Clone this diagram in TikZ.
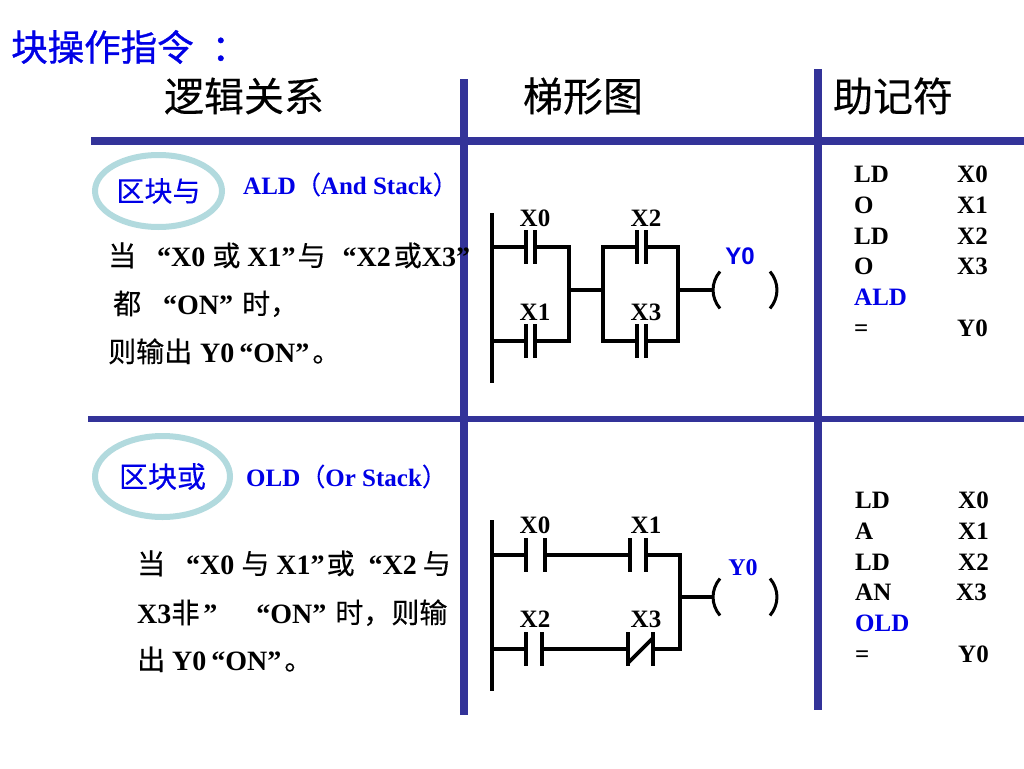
\documentclass[tikz,border=0pt]{standalone}
\usepackage{fontspec}
\setmainfont{Liberation Serif}
\setsansfont{Liberation Sans}
\newfontfamily\cjkfont{Noto Sans CJK SC}
\newfontfamily\cjkheavy[FakeBold=0.3]{Noto Sans CJK SC}
\newfontfamily\cjktitle[FakeBold=0.9]{Noto Sans CJK SC}
\newcommand{\zh}[1]{{\cjkheavy\mdseries #1}}
\newcommand{\gap}[1]{\hspace*{#1pt}}
\usetikzlibrary{shapes.geometric}
\definecolor{gridblue}{RGB}{51,51,153}
\definecolor{textblue}{RGB}{0,0,230}
\definecolor{ringteal}{RGB}{178,218,222}
\tikzset{
  gridline/.style={gridblue, line width=8pt},
  wire/.style={line width=3.6pt},
  contact/.style={inner sep=0pt, outer sep=0pt, minimum height=34pt},
  coil/.style={inner sep=0pt, outer sep=0pt, minimum width=50pt, minimum height=37pt},
  ring/.style={ellipse, draw=ringteal, line width=6pt, inner sep=0pt, text=textblue},
  heading/.style={inner sep=0pt, font=\fontsize{40}{40}\selectfont\cjkheavy},
  body/.style={anchor=base west, inner sep=0pt, font=\fontsize{28}{28}\selectfont\bfseries},
  stacktag/.style={anchor=base west, inner sep=0pt, text=textblue, font=\fontsize{25}{25}\selectfont\bfseries},
  tag/.style={inner sep=0pt, font=\fontsize{25}{25}\selectfont\bfseries},
  mnem/.style={anchor=base west, inner sep=0pt, font=\fontsize{25}{25}\selectfont\bfseries},
}
\begin{document}
\begin{tikzpicture}[x=1pt, y=-1pt]
\useasboundingbox (0,0) rectangle (1024,768);
% table lines
\coordinate (h1a) at (91,141);
\coordinate (h1b) at (1024,141);
\coordinate (h2a) at (88,419);
\coordinate (h2b) at (1024,419);
\coordinate (v1a) at (464,79);
\coordinate (v1b) at (464,715);
\coordinate (v2a) at (818,69);
\coordinate (v2b) at (818,710);
\draw[gridline] (h1a) -- (h1b);
\draw[gridline, line width=6pt] (h2a) -- (h2b);
\draw[gridline] (v1a) -- (v1b);
\draw[gridline] (v2a) -- (v2b);
% headings
\node[anchor=west, inner sep=0pt, text=textblue, font=\fontsize{36.5}{37}\selectfont\cjktitle] (title) at (11,47) {块操作指令\gap{18}：};
\node[heading] (headlogic) at (244,96) {逻辑关系};
\node[heading] (headladder) at (583,96) {梯形图};
\node[heading] (headmnem) at (893,96) {助记符};
% left column
\node[ring, minimum width=127pt, minimum height=72pt, font=\fontsize{28}{28}\selectfont\cjkheavy] (ringand) at (158.5,191) {区块与};
\node[stacktag] (tagand) at (243,194) {ALD\zh{（}And Stack\zh{）}};
\node[body] (anda) at (108,266) {\zh{当}\gap{21}“X0\gap{7}\zh{或}\gap{7}X1”\gap{2}\zh{与}\gap{17}“X2\gap{3}\zh{或}X3”};
\node[body] (andb) at (113,314) {\zh{都}\gap{22}“ON”\gap{9}\zh{时，}};
\node[body] (andc) at (108,362) {\zh{则输出}\gap{8}Y0\gap{5}“ON”\gap{3}\zh{。}};
\node[ring, minimum width=135pt, minimum height=81pt, font=\fontsize{29}{29}\selectfont\cjkheavy] (ringor) at (162.5,476.5) {区块或};
\node[stacktag] (tagor) at (246,486) {OLD\zh{（}Or Stack\zh{）}};
\node[body] (ora) at (137,574) {\zh{当}\gap{21}“X0\gap{7}\zh{与}\gap{7}X1”\gap{2}\zh{或}\gap{14}“X2\gap{6}\zh{与}};
\node[body] (orb) at (137,623) {X3\zh{非}\gap{4}”\gap{39}“ON”\gap{9}\zh{时，则输}};
\node[body] (orc) at (137,670) {\zh{出}\gap{7}Y0\gap{5}“ON”\gap{3}\zh{。}};
% ladder 1
\coordinate (rail1a) at (492,213);
\coordinate (rail1b) at (492,383);
\coordinate (j1a) at (569,290);
\coordinate (j1b) at (603,290);
\coordinate (j1c) at (678,290);
\node[contact, minimum width=9pt] (c1x0) at (530.5,247) {};
\node[contact, minimum width=9pt] (c1x1) at (530.5,341) {};
\node[contact, minimum width=9pt] (c1x2) at (641.5,247) {};
\node[contact, minimum width=9pt] (c1x3) at (641.5,341) {};
\node[coil] (coil1) at (745,290) {};
\node[tag] (l1x0) at (535,218) {X0};
\node[tag] (l1x1) at (535,312) {X1};
\node[tag] (l1x2) at (646,218) {X2};
\node[tag] (l1x3) at (646,312) {X3};
\node[tag, text=textblue, font=\fontsize{24}{24}\selectfont\sffamily\bfseries] (l1y0) at (740,256) {Y0};
\draw[wire] (rail1a) -- (rail1b);
\draw[wire] (rail1a |- c1x0) -- (c1x0.west);
\draw[wire] (rail1a |- c1x1) -- (c1x1.west);
\draw[wire] (c1x0.north west) -- (c1x0.south west);
\draw[wire] (c1x0.north east) -- (c1x0.south east);
\draw[wire] (c1x1.north west) -- (c1x1.south west);
\draw[wire] (c1x1.north east) -- (c1x1.south east);
\draw[wire] (c1x2.north west) -- (c1x2.south west);
\draw[wire] (c1x2.north east) -- (c1x2.south east);
\draw[wire] (c1x3.north west) -- (c1x3.south west);
\draw[wire] (c1x3.north east) -- (c1x3.south east);
\draw[wire] (c1x0.east) -| (j1a);
\draw[wire] (c1x1.east) -| (j1a);
\draw[wire] (j1a) -- (j1b);
\draw[wire] (j1b) |- (c1x2.west);
\draw[wire] (j1b) |- (c1x3.west);
\draw[wire] (c1x2.east) -| (j1c);
\draw[wire] (c1x3.east) -| (j1c);
\draw[wire] (j1c) -- ([xshift=-7pt]coil1.west);
\draw[wire, line width=3pt] (coil1.north west) to[bend right=40] (coil1.south west);
\draw[wire, line width=3pt] (coil1.north east) to[bend left=40] (coil1.south east);
% ladder 2
\coordinate (rail2a) at (492,520);
\coordinate (rail2b) at (492,691);
\coordinate (j2a) at (680,597);
\node[contact, minimum width=19pt] (c2x0) at (535.5,555) {};
\node[contact, minimum width=16pt] (c2x1) at (638,555) {};
\node[contact, minimum width=16pt] (c2x2) at (534,649) {};
\node[contact, minimum width=25pt] (c2x3) at (640.5,649) {};
\node[coil] (coil2) at (745,597) {};
\node[tag] (l2x0) at (535,525) {X0};
\node[tag] (l2x1) at (646,525) {X1};
\node[tag] (l2x2) at (535,619) {X2};
\node[tag] (l2x3) at (646,619) {X3};
\node[tag, text=textblue, font=\fontsize{24}{24}\selectfont\bfseries] (l2y0) at (743,568) {Y0};
\draw[wire] (rail2a) -- (rail2b);
\draw[wire] (rail2a |- c2x0) -- (c2x0.west);
\draw[wire] (rail2a |- c2x2) -- (c2x2.west);
\draw[wire] (c2x0.north west) -- (c2x0.south west);
\draw[wire] (c2x0.north east) -- (c2x0.south east);
\draw[wire] (c2x1.north west) -- (c2x1.south west);
\draw[wire] (c2x1.north east) -- (c2x1.south east);
\draw[wire] (c2x2.north west) -- (c2x2.south west);
\draw[wire] (c2x2.north east) -- (c2x2.south east);
\draw[wire] (c2x3.north west) -- (c2x3.south west);
\draw[wire] (c2x3.north east) -- (c2x3.south east);
\draw[wire] ([yshift=3pt]c2x3.south west) -- ([yshift=-6pt]c2x3.north east);
\draw[wire] (c2x0.east) -- (c2x1.west);
\draw[wire] (c2x2.east) -- (c2x3.west);
\draw[wire] (c2x1.east) -| (j2a);
\draw[wire] (c2x3.east) -| (j2a);
\draw[wire] (j2a) -- ([xshift=-7pt]coil2.west);
\draw[wire, line width=3pt] (coil2.north west) to[bend right=40] (coil2.south west);
\draw[wire, line width=3pt] (coil2.north east) to[bend left=40] (coil2.south east);
% mnemonics 1
\node[mnem] (m1a) at (854,182) {LD};
\node[mnem] (m1b) at (854,213) {O};
\node[mnem] (m1c) at (854,244) {LD};
\node[mnem] (m1d) at (854,274) {O};
\node[mnem, text=textblue] (m1e) at (854,305) {ALD};
\node[mnem] (m1f) at (854,336) {=};
\node[mnem] (a1a) at (957,182) {X0};
\node[mnem] (a1b) at (957,213) {X1};
\node[mnem] (a1c) at (957,244) {X2};
\node[mnem] (a1d) at (957,274) {X3};
\node[mnem] (a1f) at (957,336) {Y0};
% mnemonics 2
\node[mnem] (m2a) at (855,508) {LD};
\node[mnem] (m2b) at (855,539) {A};
\node[mnem] (m2c) at (855,570) {LD};
\node[mnem] (m2d) at (855,600) {AN};
\node[mnem, text=textblue] (m2e) at (855,631) {OLD};
\node[mnem] (m2f) at (855,662) {=};
\node[mnem] (a2a) at (958,508) {X0};
\node[mnem] (a2b) at (958,539) {X1};
\node[mnem] (a2c) at (958,570) {X2};
\node[mnem] (a2d) at (956,600) {X3};
\node[mnem] (a2f) at (958,662) {Y0};
\end{tikzpicture}
\end{document}
